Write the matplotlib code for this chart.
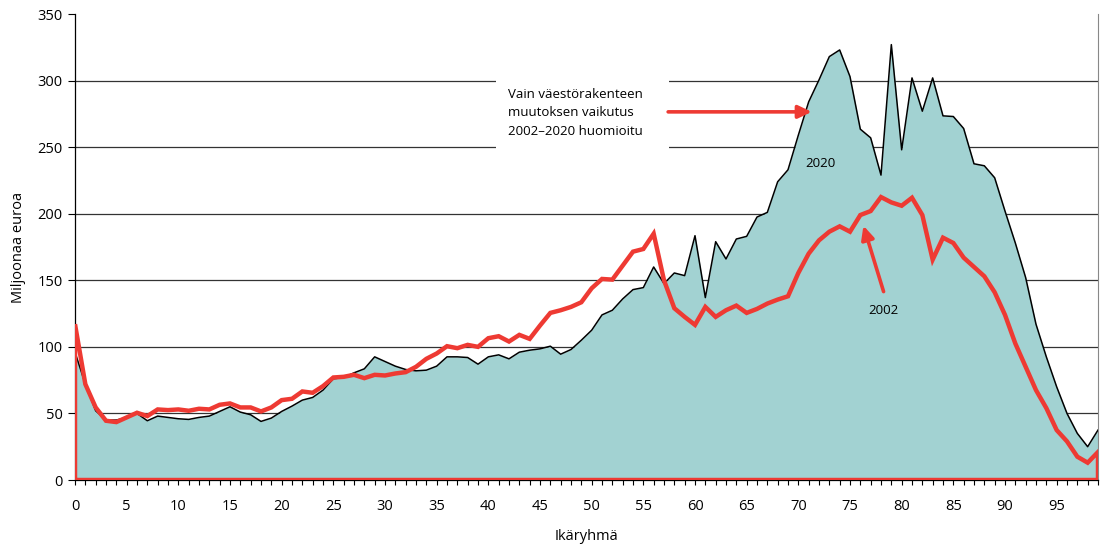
import matplotlib.pyplot as plt
from matplotlib.patches import Rectangle
import numpy as np

plt.rcParams['font.family'] = ['Open Sans', 'DejaVu Sans']

ages = np.arange(100)

# 2020 menot (musta viiva, täyttö)
menot_2020 = [96, 72, 52, 45, 45, 47, 50, 44.5, 48, 47,
              46, 45.5, 47, 48, 51.5, 55, 51, 49, 44, 46.5,
              51.5, 55.5, 60, 62, 67.5, 76, 77, 80.5, 83.5, 92.5,
              89, 85.5, 83, 82, 82.5, 85.5, 92.5, 92.5, 92, 87,
              92.5, 94, 91, 96, 97.5, 98.5, 100.5, 94.5, 98, 105,
              112.5, 124, 127.5, 136, 143, 144.5, 160, 147.5, 155.5, 153.5,
              183.5, 137, 179, 166, 181, 183, 197.5, 201, 224, 233,
              259, 284, 300.5, 318, 323, 303, 263.5, 257, 229, 327,
              248, 302, 277, 302, 273.5, 273, 264, 237.5, 236, 227,
              202, 178, 152, 117, 92.5, 70, 50, 35, 25, 37.5]

# vain väestörakenteen muutos (punainen)
menot_2002 = [117, 72, 54.5, 44.5, 43.5, 47, 50.5, 48, 53, 52.5,
              53, 52, 53.5, 53, 56.5, 57.5, 54.5, 54.5, 51.5, 54.5,
              60, 61, 66.5, 65.5, 70.5, 77, 77.5, 79, 76.5, 79,
              78.5, 80, 81, 85, 91, 95, 100.5, 99, 101.5, 100,
              106.5, 108, 104, 109, 106, 116, 125.5, 127.5, 130, 133.5,
              144, 151, 150.5, 161, 171.5, 173.5, 185, 150, 129, 122.5,
              116.5, 130, 122.5, 127.5, 131, 125.5, 128.5, 132.5, 135.5, 138,
              155.5, 170, 180, 186.5, 190.5, 186.5, 199, 202, 212.5, 208.5,
              206, 212, 199, 165.5, 182, 178, 167, 160, 153, 141,
              124, 102.5, 85, 67.5, 54, 37.5, 29, 17.5, 13, 21]

red = '#EE3A33'
teal = '#A2D2D2'

fig = plt.figure(figsize=(11.04, 5.44), dpi=100)
ax = fig.add_axes([75 / 1104, 64 / 544, 1023 / 1104, 466 / 544])

# gridlines behind the area
for g in [50, 100, 150, 200, 250, 300]:
    ax.axhline(g, color='#333333', lw=0.9, zorder=0)

# white box behind the annotation text
ax.add_patch(Rectangle((40.7, 240), 16.8, 70, facecolor='white', edgecolor='none', zorder=0.5))

ax.fill_between(ages, menot_2020, 0, color=teal, lw=0, zorder=1)
ax.plot(ages, menot_2020, color='black', lw=1.1, zorder=2)

# red series drawn as an outlined area
rx = np.concatenate([[0], ages, [99, 0]])
ry = np.concatenate([[0], menot_2002, [0, 0]])
ax.plot(rx, ry, color=red, lw=3.2, solid_joinstyle='miter', zorder=3)

ax.text(41.9, 276, 'Vain väestörakenteen\nmuutoksen vaikutus\n2002–2020 huomioitu',
        fontsize=9.5, va='center', ha='left', linespacing=1.55, zorder=4)
ax.annotate('', xy=(71.3, 276.5), xytext=(57.4, 276.5),
            arrowprops=dict(arrowstyle='-|>,head_length=0.8,head_width=0.38',
                            color=red, lw=2.6, shrinkA=0, shrinkB=0), zorder=4)
ax.annotate('', xy=(76.3, 191), xytext=(78.25, 141.5),
            arrowprops=dict(arrowstyle='-|>,head_length=0.8,head_width=0.38',
                            color=red, lw=2.6, shrinkA=0, shrinkB=0), zorder=4)
ax.text(72.1, 238, '2020', fontsize=9.5, ha='center', va='center', zorder=4)
ax.text(78.2, 127, '2002', fontsize=9.5, ha='center', va='center', zorder=4)

ax.set_xlim(0, 99)
ax.set_ylim(0, 350)
ax.set_xticks(np.arange(0, 100, 5))
ax.set_xticks(ages, minor=True)
ax.set_yticks(np.arange(0, 351, 50))
ax.tick_params(axis='x', which='both', length=3.5, width=0.8, direction='out', pad=10, labelsize=10.5)
ax.tick_params(axis='y', length=5, width=0.8, direction='out', pad=4, labelsize=10.5)

ax.spines['top'].set_visible(False)
ax.spines['right'].set_color('#888888')
ax.spines['right'].set_linewidth(0.8)
ax.spines['left'].set_linewidth(0.9)
ax.spines['bottom'].set_linewidth(0.9)

ax.set_xlabel('Ikäryhmä', fontsize=10.5, labelpad=11)
ax.set_ylabel('Miljoonaa euroa', fontsize=10.5, labelpad=8)

plt.savefig('out.png', dpi=100)
